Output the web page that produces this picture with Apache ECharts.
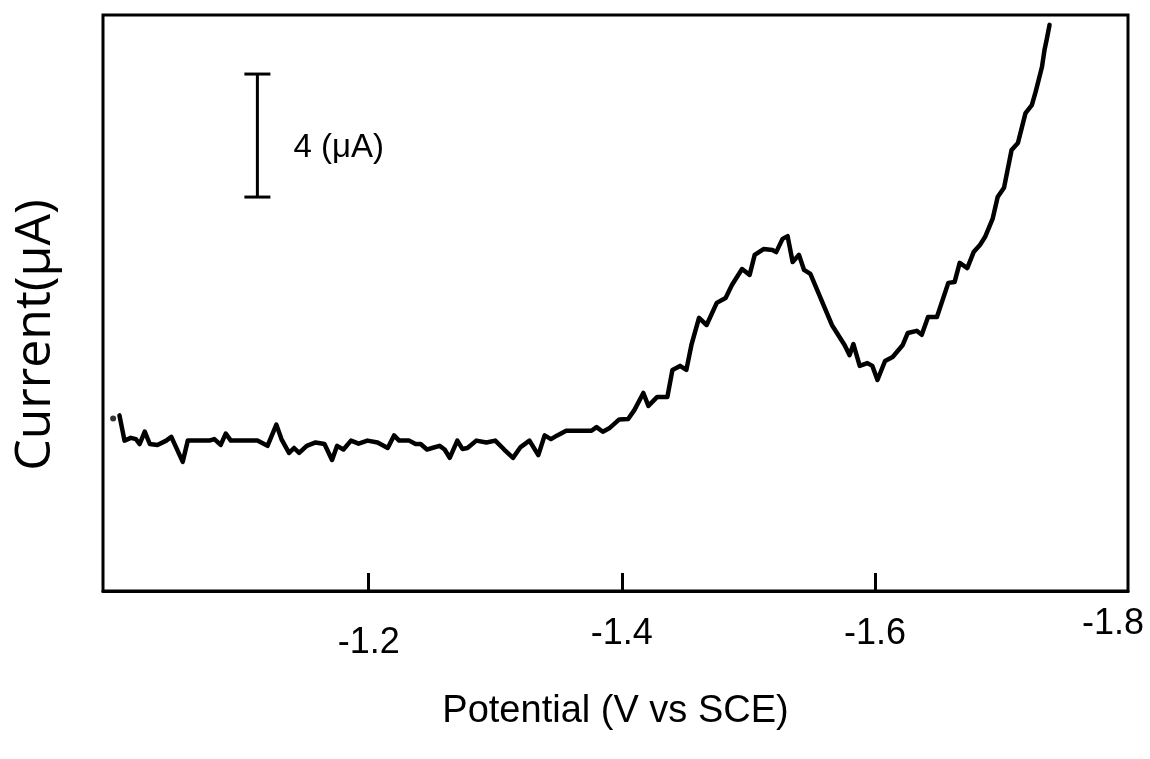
<!DOCTYPE html>
<html>
<head>
<meta charset="utf-8">
<script src="https://cdn.jsdelivr.net/npm/echarts@6/dist/echarts.min.js"></script>
<style>
  html, body { margin: 0; padding: 0; background: #fff; }
  #chart { width: 1150px; height: 759px; }
</style>
</head>
<body>
<div id="chart"></div>
<script>
// Linear-sweep voltammogram: potential (V vs SCE) and current (μA, arbitrary offset)
const potential = [
  -1.003, -1.007, -1.012, -1.016, -1.019, -1.023, -1.027, -1.033, -1.040, -1.044,
  -1.053, -1.057, -1.074, -1.078, -1.083, -1.087, -1.091, -1.112, -1.120, -1.127,
  -1.131, -1.137, -1.141, -1.145, -1.151, -1.158, -1.165, -1.171, -1.175, -1.180,
  -1.186, -1.192, -1.199, -1.207, -1.215, -1.220, -1.224, -1.232, -1.237, -1.241,
  -1.246, -1.250, -1.256, -1.260, -1.264, -1.270, -1.274, -1.278, -1.285, -1.293,
  -1.300, -1.307, -1.314, -1.320, -1.327, -1.334, -1.339, -1.344, -1.349, -1.356,
  -1.376, -1.380, -1.385, -1.390, -1.398, -1.405, -1.410, -1.417, -1.421, -1.428,
  -1.436, -1.440, -1.446, -1.451, -1.455, -1.461, -1.467, -1.475, -1.482, -1.487,
  -1.495, -1.501, -1.505, -1.512, -1.519, -1.522, -1.527, -1.531, -1.535, -1.540,
  -1.544, -1.549, -1.557, -1.566, -1.576, -1.580, -1.583, -1.588, -1.594, -1.598,
  -1.602, -1.608, -1.614, -1.622, -1.626, -1.633, -1.637, -1.642, -1.649, -1.658,
  -1.663, -1.667, -1.673, -1.678, -1.683, -1.687, -1.693, -1.697, -1.702, -1.708,
  -1.713, -1.719, -1.724, -1.727, -1.732, -1.734, -1.736, -1.738
];
const current = [
  5.71, 4.89, 4.98, 4.94, 4.78, 5.18, 4.78, 4.75, 4.89, 5.01,
  4.20, 4.89, 4.89, 4.94, 4.75, 5.12, 4.89, 4.89, 4.72, 5.41,
  4.94, 4.49, 4.65, 4.49, 4.72, 4.83, 4.78, 4.26, 4.72, 4.60,
  4.89, 4.79, 4.89, 4.83, 4.65, 5.06, 4.89, 4.89, 4.78, 4.78,
  4.60, 4.65, 4.72, 4.60, 4.33, 4.89, 4.62, 4.65, 4.89, 4.83,
  4.89, 4.60, 4.33, 4.68, 4.89, 4.42, 5.06, 4.94, 5.06, 5.21,
  5.21, 5.33, 5.18, 5.29, 5.58, 5.59, 5.89, 6.44, 6.02, 6.31,
  6.31, 7.19, 7.32, 7.19, 8.00, 8.88, 8.65, 9.37, 9.53, 9.95,
  10.47, 10.28, 10.93, 11.12, 11.09, 11.02, 11.45, 11.54, 10.70, 10.93,
  10.44, 10.31, 9.53, 8.65, 8.00, 7.67, 8.03, 7.32, 7.41, 7.32,
  6.86, 7.48, 7.61, 8.00, 8.39, 8.46, 8.33, 8.91, 8.91, 10.02,
  10.05, 10.67, 10.50, 11.02, 11.25, 11.51, 12.10, 12.81, 13.11, 14.34,
  14.57, 15.54, 15.80, 16.23, 17.04, 17.59, 17.98, 18.41
];
// Stray first sample, plotted on its own
const strayPoint = [-0.998, 5.61];

// Axis ranges and tick labels
const potentialRange = [-1.8, -0.99];
const currentRange = [0, 18.73];
const tickValues = [-1.2, -1.4, -1.6];
const tickLabels = [-1.2, -1.4, -1.6, -1.8];

// Scale bar: 4 μA drawn at a fixed potential
const scaleBarPotential = -1.112;
const scaleBarBottom = 12.81;
const scaleBarSpan = 4;
const scaleBarText = '4 (μA)';

const curveData = potential.map((v, i) => [v, current[i]]);

const chart = echarts.init(document.getElementById('chart'), null, { renderer: 'canvas' });

const labelFont = { fontFamily: 'Liberation Sans', fontSize: 36, color: '#000' };

chart.setOption({
  animation: false,
  backgroundColor: '#ffffff',
  grid: {
    left: 103, right: 22, top: 15, bottom: 168,
    show: true, borderColor: '#000', borderWidth: 3, backgroundColor: 'transparent'
  },
  xAxis: {
    type: 'value',
    inverse: true,
    min: potentialRange[0],
    max: potentialRange[1],
    name: 'Potential (V vs SCE)',
    nameLocation: 'middle',
    nameGap: 102,
    nameTextStyle: { fontFamily: 'Liberation Sans', fontSize: 38, color: '#000' },
    axisLine: { show: true, lineStyle: { color: '#000', width: 3 } },
    axisTick: {
      show: true, inside: true, length: 18,
      lineStyle: { color: '#000', width: 3 },
      customValues: tickValues
    },
    axisLabel: {
      show: true,
      customValues: tickLabels,
      margin: 15,
      fontFamily: 'Liberation Sans',
      fontSize: 36,
      color: '#000',
      formatter: function (v) {
        const t = v.toFixed(1);
        if (Math.abs(v + 1.8) < 1e-6) return '{hi|' + t + '}';
        if (Math.abs(v + 1.2) < 1e-6) return '{lo|' + t + '}';
        return '{a|' + t + '}';
      },
      rich: {
        a: Object.assign({ padding: [10, 0, 0, 0] }, labelFont),
        lo: Object.assign({ padding: [19, 0, 0, 0] }, labelFont),
        hi: Object.assign({ padding: [0, 30, 0, 0] }, labelFont)
      }
    },
    splitLine: { show: false }
  },
  yAxis: {
    type: 'value',
    min: currentRange[0],
    max: currentRange[1],
    name: 'Current(μA)',
    nameLocation: 'middle',
    nameGap: 42,
    nameTextStyle: {
      fontFamily: 'Open Sans', fontSize: 50, color: '#000',
      padding: [0, 64, 0, 0]
    },
    axisLine: { show: false },
    axisTick: { show: false },
    axisLabel: { show: false },
    splitLine: { show: false }
  },
  series: [
    {
      type: 'line',
      data: curveData,
      showSymbol: false,
      symbol: 'none',
      lineStyle: { color: '#000', width: 4.5, join: 'round', cap: 'round' },
      silent: true,
      z: 3
    },
    {
      type: 'scatter',
      data: [strayPoint],
      symbol: 'circle',
      symbolSize: 6,
      itemStyle: { color: '#000' },
      silent: true
    },
    {
      type: 'custom',
      silent: true,
      data: [[scaleBarPotential, scaleBarBottom, scaleBarBottom + scaleBarSpan]],
      renderItem: function (params, api) {
        const p0 = api.coord([api.value(0), api.value(1)]);
        const p1 = api.coord([api.value(0), api.value(2)]);
        const capHalf = 13;
        const style = { stroke: '#000', lineWidth: 3 };
        return {
          type: 'group',
          children: [
            { type: 'line', shape: { x1: p0[0], y1: p0[1], x2: p1[0], y2: p1[1] }, style: style },
            { type: 'line', shape: { x1: p0[0] - capHalf, y1: p0[1], x2: p0[0] + capHalf, y2: p0[1] }, style: style },
            { type: 'line', shape: { x1: p1[0] - capHalf, y1: p1[1], x2: p1[0] + capHalf, y2: p1[1] }, style: style },
            {
              type: 'text',
              x: p0[0] + 36,
              y: (p0[1] + p1[1]) / 2 + 12,
              style: {
                text: scaleBarText,
                fill: '#000',
                font: '33px "Liberation Sans"',
                textAlign: 'left',
                textVerticalAlign: 'middle'
              }
            }
          ]
        };
      }
    }
  ]
});
</script>
</body>
</html>
